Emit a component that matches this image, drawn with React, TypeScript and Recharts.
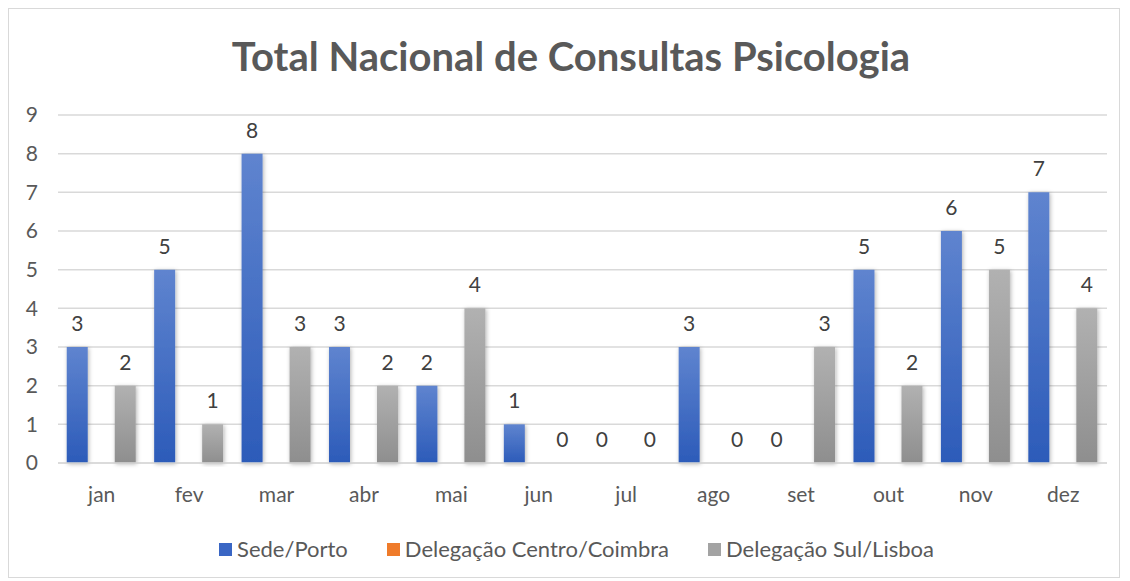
import React from 'react';
import { BarChart, Bar, XAxis, YAxis, CartesianGrid, LabelList } from 'recharts';

const months = ['jan', 'fev', 'mar', 'abr', 'mai', 'jun', 'jul', 'ago', 'set', 'out', 'nov', 'dez'];
const porto = [3, 5, 8, 3, 2, 1, 0, 3, 0, 5, 6, 7];
const coimbra = [0, 0, 0, 0, 0, 0, 0, 0, 0, 0, 0, 0];
const lisboa = [2, 1, 3, 2, 4, 0, 0, 0, 3, 2, 5, 4];
const yTicks = [0, 1, 2, 3, 4, 5, 6, 7, 8, 9];
const seriesNames = ['Sede/Porto', 'Delegação Centro/Coimbra', 'Delegação Sul/Lisboa'];
const legendColors = ['#3a66c4', '#ef7b2a', '#a3a3a3'];

const data = months.map((m, i) => ({ month: m, porto: porto[i], coimbra: coimbra[i], lisboa: lisboa[i] }));

const FONT = 'Lato, "Open Sans", sans-serif';

const LegendBox = () => (
  <div style={{ position: 'absolute', left: 0, top: 527, width: 1135, display: 'flex', justifyContent: 'center', alignItems: 'center', fontFamily: FONT, fontSize: 22, color: '#595959', lineHeight: '26px' }}>
    {seriesNames.map((n, i) => (
      <div key={n} style={{ display: 'flex', alignItems: 'center', marginLeft: i === 0 ? 0 : 39 }}>
        <span style={{ width: 13, height: 13, background: legendColors[i], display: 'inline-block', marginRight: 5 }} />
        <span>{n}</span>
      </div>
    ))}
  </div>
);

export default function App() {
  return (
    <div style={{ position: 'relative', width: 1112, height: 570, border: '1px solid #d9d9d9', boxSizing: 'border-box', background: '#fff' }}>
      <div style={{ position: 'absolute', left: 0, top: 24, width: 1124, textAlign: 'center', fontFamily: FONT, fontWeight: 700, fontSize: 40, color: '#595959', lineHeight: '46px' }}>
        Total Nacional de Consultas Psicologia
      </div>
      <div style={{ position: 'absolute', left: 0, top: 0 }}>
        <BarChart width={1110} height={568} data={data} margin={{ top: 106, right: 12, left: 0, bottom: 64 }} barCategoryGap="10%" barGap={3}>
          <defs>
            <linearGradient id="gBlue" x1="0" y1="0" x2="0" y2="1">
              <stop offset="0%" stopColor="#5f84cf" />
              <stop offset="100%" stopColor="#2c5bb9" />
            </linearGradient>
            <linearGradient id="gOrange" x1="0" y1="0" x2="0" y2="1">
              <stop offset="0%" stopColor="#f4914a" />
              <stop offset="100%" stopColor="#e56c17" />
            </linearGradient>
            <linearGradient id="gGray" x1="0" y1="0" x2="0" y2="1">
              <stop offset="0%" stopColor="#b1b1b1" />
              <stop offset="100%" stopColor="#8e8e8e" />
            </linearGradient>
            <filter id="shadow" x="-30%" y="-10%" width="160%" height="120%">
              <feDropShadow dx="1" dy="1" stdDeviation="2" floodColor="#000" floodOpacity="0.3" />
            </filter>
          </defs>
          <CartesianGrid vertical={false} stroke="#d9d9d9" strokeWidth={1.5} />
          <XAxis dataKey="month" axisLine={{ stroke: '#d9d9d9', strokeWidth: 1.5 }} tickLine={false} tick={{ fill: '#595959', fontSize: 21, fontFamily: FONT }} tickMargin={18} height={50} />
          <YAxis domain={[0, 9]} ticks={yTicks} axisLine={false} tickLine={false} tick={{ fill: '#595959', fontSize: 21, fontFamily: FONT }} width={49} tickMargin={14} interval={0} />
          <Bar dataKey="porto" name={seriesNames[0]} fill="url(#gBlue)" isAnimationActive={false} minPointSize={0.01} style={{ filter: 'url(#shadow)' }}>
            <LabelList dataKey="porto" position="top" offset={16} fill="#404040" fontSize={21} fontFamily={FONT} />
          </Bar>
          <Bar dataKey="coimbra" name={seriesNames[1]} fill="url(#gOrange)" isAnimationActive={false} />
          <Bar dataKey="lisboa" name={seriesNames[2]} fill="url(#gGray)" isAnimationActive={false} minPointSize={0.01} style={{ filter: 'url(#shadow)' }}>
            <LabelList dataKey="lisboa" position="top" offset={16} fill="#404040" fontSize={21} fontFamily={FONT} />
          </Bar>
        </BarChart>
      </div>
      <LegendBox />
    </div>
  );
}
